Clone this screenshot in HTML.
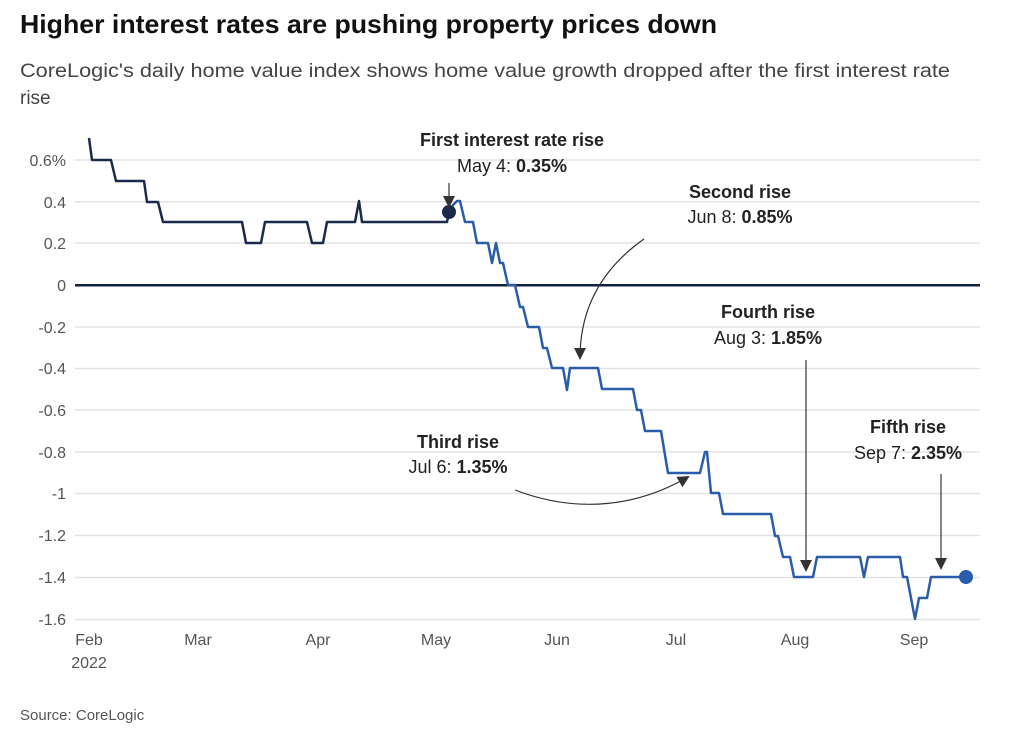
<!DOCTYPE html>
<html><head><meta charset="utf-8"><style>
body{margin:0;background:#fff;width:1024px;height:732px;overflow:hidden;font-family:"Liberation Sans",sans-serif}
</style></head><body>
<svg width="1024" height="732" xmlns="http://www.w3.org/2000/svg" font-family="Liberation Sans, sans-serif">
<text x="20" y="33" font-size="26" font-weight="bold" fill="#111" textLength="697" lengthAdjust="spacingAndGlyphs">Higher interest rates are pushing property prices down</text>
<text x="20" y="77" font-size="19" fill="#444" textLength="930" lengthAdjust="spacingAndGlyphs">CoreLogic's daily home value index shows home value growth dropped after the first interest rate</text>
<text x="20" y="104" font-size="19" fill="#444">rise</text>
<g stroke="#e3e3e3" stroke-width="1.5">
<line x1="75" x2="980" y1="160" y2="160"/><line x1="75" x2="980" y1="201.7" y2="201.7"/><line x1="75" x2="980" y1="243" y2="243"/>
<line x1="75" x2="980" y1="327" y2="327"/><line x1="75" x2="980" y1="368.5" y2="368.5"/><line x1="75" x2="980" y1="410" y2="410"/>
<line x1="75" x2="980" y1="452" y2="452"/><line x1="75" x2="980" y1="493.5" y2="493.5"/><line x1="75" x2="980" y1="535.5" y2="535.5"/>
<line x1="75" x2="980" y1="577.5" y2="577.5"/><line x1="75" x2="980" y1="619.5" y2="619.5"/>
</g>
<line x1="75" x2="980" y1="285.3" y2="285.3" stroke="#14213d" stroke-width="2.5"/>
<g font-size="16" fill="#555" text-anchor="end">
<text x="66" y="166">0.6%</text><text x="66" y="208">0.4</text><text x="66" y="249">0.2</text><text x="66" y="291">0</text>
<text x="66" y="333">-0.2</text><text x="66" y="374">-0.4</text><text x="66" y="416">-0.6</text><text x="66" y="458">-0.8</text>
<text x="66" y="499">-1</text><text x="66" y="541">-1.2</text><text x="66" y="583">-1.4</text><text x="66" y="625">-1.6</text>
</g>
<g font-size="16" fill="#555" text-anchor="middle">
<text x="89" y="645">Feb</text><text x="89" y="668">2022</text><text x="198" y="645">Mar</text><text x="318" y="645">Apr</text>
<text x="436" y="645">May</text><text x="557" y="645">Jun</text><text x="676" y="645">Jul</text><text x="795" y="645">Aug</text><text x="914" y="645">Sep</text>
</g>
<polyline fill="none" stroke="#1b2a4a" stroke-width="2.5" stroke-linejoin="round" points="89,138 92,160 111,160 116,181 144,181 147,202 158,202 163,222 242,222 246,243 261,243 265,222 307,222 312,243 323,243 327,222 355,222 359,201 362,222 447,222 449,213"/>
<polyline fill="none" stroke="#2a5caa" stroke-width="2.5" stroke-linejoin="round" points="449,213 453,205 457,201 460,201 465,222 473,222 477,243 488,243 492,263 496,243 500,263 503,263 508,285 515,285 520,307 523,307 528,327 539,327 543,348 547,348 552,368 563,368 567,390 570,368 598,368 602,389 633,389 637,410 641,410 645,431 661,431 668,473 700,473 705,452 707,452 711,493 719,493 723,514 771,514 775,536 778,536 783,557 790,557 794,577 813,577 817,557 860,557 864,577 868,557 900,557 903,577 907,577 915,619 919,598 927,598 931,577 966,577"/>
<circle cx="449" cy="212" r="7" fill="#1b2a4a"/>
<circle cx="966" cy="577" r="7" fill="#2a5caa"/>
<defs><marker id="a" markerWidth="12" markerHeight="12" refX="10" refY="6" orient="auto" markerUnits="userSpaceOnUse"><path d="M0,0 L12,6 L0,12 z" fill="#333"/></marker></defs>
<g stroke="#333" stroke-width="1.2" fill="none" marker-end="url(#a)">
<line x1="449" y1="183" x2="449" y2="206"/>
<path d="M644,239 C600,270 580,310 580,358"/>
<path d="M515,490 C580,515 640,505 688,477"/>
<line x1="806" y1="360" x2="806" y2="570"/>
<line x1="941" y1="474" x2="941" y2="568"/>
</g>
<g font-size="18" fill="#222" text-anchor="middle">
<text x="512" y="146" font-weight="bold">First interest rate rise</text>
<text x="512" y="172">May 4: <tspan font-weight="bold">0.35%</tspan></text>
<text x="740" y="198" font-weight="bold">Second rise</text>
<text x="740" y="223">Jun 8: <tspan font-weight="bold">0.85%</tspan></text>
<text x="768" y="318" font-weight="bold">Fourth rise</text>
<text x="768" y="344">Aug 3: <tspan font-weight="bold">1.85%</tspan></text>
<text x="458" y="448" font-weight="bold">Third rise</text>
<text x="458" y="473">Jul 6: <tspan font-weight="bold">1.35%</tspan></text>
<text x="908" y="433" font-weight="bold">Fifth rise</text>
<text x="908" y="459">Sep 7: <tspan font-weight="bold">2.35%</tspan></text>
</g>
<text x="20" y="720" font-size="15" fill="#555">Source: CoreLogic</text>
</svg>
</body></html>
